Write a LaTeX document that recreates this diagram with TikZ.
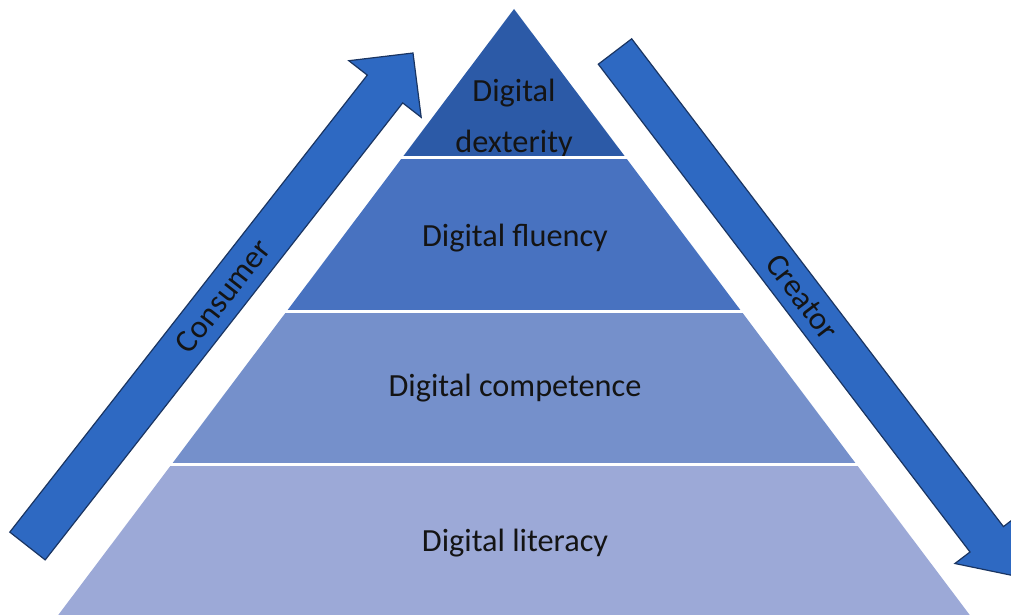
\documentclass[tikz,border=0pt]{standalone}
\usepackage{fontspec}
\setmainfont{Carlito}
\definecolor{layerA}{HTML}{2C5AA7}
\definecolor{layerB}{HTML}{4872C0}
\definecolor{layerC}{HTML}{7590CB}
\definecolor{layerD}{HTML}{9CA9D7}
\definecolor{arrowfill}{HTML}{2E69C2}
\definecolor{arrowedge}{HTML}{1A3562}
\definecolor{txt}{HTML}{141414}
\tikzset{
  blockarrow/.style={fill=arrowfill, draw=arrowedge, line width=1.2pt, line join=miter},
  label/.style={text=txt, font=\fontsize{32.3}{38}\selectfont, inner sep=0pt},
  gap/.style={draw=white, line width=3.5pt}
}
\begin{document}
\begin{tikzpicture}[x=1pt,y=-1pt]
\useasboundingbox (0,0) rectangle (1011,615);
\fill[white] (0,0) rectangle (1011,615);
\clip (0,0) rectangle (1011,615);
% pyramid layers
\fill[layerA] (514,9) -- (625.7,157.5) -- (402.3,157.5) -- cycle;
\node[label, anchor=base] (dig1) at (514,102) {Digital};
\node[label, anchor=base] (dex) at (514,152) {dexterity};
\fill[layerB] (402.3,157.5) -- (625.7,157.5) -- (741.5,311.5) -- (286.5,311.5) -- cycle;
\fill[layerC] (286.5,311.5) -- (741.5,311.5) -- (856.5,464.5) -- (171.5,464.5) -- cycle;
\fill[layerD] (171.5,464.5) -- (856.5,464.5) -- (973.5,620) -- (54.5,620) -- cycle;
\draw[gap] (395,157.5) -- (633,157.5);
\draw[gap] (280,311.5) -- (748,311.5);
\draw[gap] (165,464.5) -- (863,464.5);
\node[label, anchor=base] (flu) at (515,246) {Digital fluency};
\node[label, anchor=base] (comp) at (515,396) {Digital competence};
\node[label, anchor=base] (lit) at (515,551) {Digital literacy};
% left arrow (Consumer)
\draw[blockarrow] (9.8,532.1) -- (367.3,75.1) -- (348.8,60.7) -- (413,53) -- (421.2,117.3) -- (402.7,102.9) -- (45.2,559.9) -- cycle;
\node[label, rotate=52] (cons) at (223,296) {Consumer};
% right arrow (Creator)
\draw[blockarrow] (598.3,64.2) -- (970.0,552.0) -- (954.9,563.5) -- (1014.6,575.9) -- (1018.5,515.1) -- (1003.4,526.6) -- (631.7,38.8) -- cycle;
\node[label, rotate=-52.7] (crea) at (802,297) {Creator};
\end{tikzpicture}
\end{document}
